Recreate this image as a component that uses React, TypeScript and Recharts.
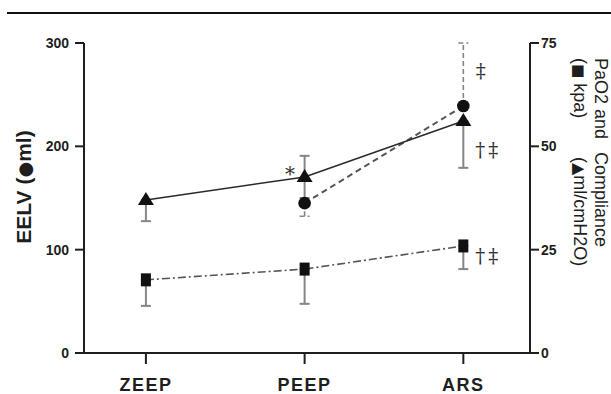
import React from 'react';
import { LineChart, Line, XAxis, YAxis, ErrorBar, LabelList } from 'recharts';

const categories = ['ZEEP', 'PEEP', 'ARS'];

// EELV (ml), left axis - no visible point at ZEEP
const eelv = [null, 145, 239];
const eelvErr = [null, [12.6, 0], [0, 61]];
const eelvNotes = ['', '', '‡'];

// Compliance (ml/cmH2O), right axis
const compliance = [37.0, 42.6, 56.1];
const complianceErr = [[5.1, 0], [5.1, 5.1], [11.3, 0]];
const complianceNotes = ['', '*', '†‡'];

// PaO2 (kpa), right axis
const pao2 = [17.7, 20.3, 25.9];
const pao2Err = [[6.3, 0], [8.4, 0], [5.6, 0]];
const pao2Notes = ['', '', '†‡'];

const leftTicks = [0, 100, 200, 300];
const rightTicks = [0, 25, 50, 75];

const data = categories.map((name, i) => ({
  x: i,
  name,
  eelv: eelv[i],
  eelvErr: eelvErr[i],
  eelvNote: eelvNotes[i],
  compliance: compliance[i],
  complianceErr: complianceErr[i],
  complianceNote: complianceNotes[i],
  pao2: pao2[i],
  pao2Err: pao2Err[i],
  pao2Note: pao2Notes[i],
}));

const INK = '#1e1e1e';
const GREY = '#858585';
const SANS = 'Liberation Sans, Arial, sans-serif';
const SYMBOL = 'DejaVu Sans, sans-serif';

const triangleDot = (p: any) => {
  const { cx, cy, key } = p;
  if (cx == null || cy == null) return <g key={key} />;
  return <path key={key} d={`M${cx},${cy - 8} L${cx + 8},${cy + 5} L${cx - 8},${cy + 5} Z`} fill="#111" />;
};

const circleDot = (p: any) => {
  const { cx, cy, key } = p;
  if (cx == null || cy == null) return <g key={key} />;
  return <circle key={key} cx={cx} cy={cy} r={6.3} fill="#111" />;
};

const squareDot = (p: any) => {
  const { cx, cy, key } = p;
  if (cx == null || cy == null) return <g key={key} />;
  return <rect key={key} x={cx - 5} y={cy - 6.5} width={10} height={13} fill="#111" />;
};

// significance marks next to the points
const noteRenderer = (daggerDy: number) => (props: any) => {
  const { x, y, value } = props;
  if (!value || x == null || y == null) return null;
  let dx = 12;
  let dy = daggerDy;
  let anchor: 'start' | 'middle' = 'start';
  if (value === '*') { dx = -13; dy = 4; anchor = 'middle'; }
  if (value === '‡') { dx = 19; dy = -28; anchor = 'middle'; }
  return (
    <text x={x + dx} y={y + dy} textAnchor={anchor} fontFamily="DejaVu Serif, serif"
      fontSize={20} fill="#333" letterSpacing={3}>
      {value}
    </text>
  );
};

const leftLabel = (props: any) => {
  const vb = props.viewBox;
  const lx = vb.x + 31;
  const ly = vb.y + 144;
  return (
    <text transform={`rotate(-90, ${lx}, ${ly})`} x={lx} y={ly} textAnchor="middle"
      fontFamily={SANS} fontSize={21} fontWeight={700} fill={INK}>
      EELV (<tspan fontFamily={SYMBOL} fontSize={18}>●</tspan>ml)
    </text>
  );
};

const rightLabel = (props: any) => {
  const vb = props.viewBox;
  const top = vb.y + 15;
  const line1 = vb.x + 65;
  const line2 = vb.x + 44;
  const style = { fontFamily: SANS, fontSize: 18, fill: INK };
  return (
    <g>
      <text transform={`translate(${line1}, ${top}) rotate(90)`} {...style}>
        <tspan x={0} y={0}>PaO2 and</tspan>
        <tspan x={94} y={0}>Compliance</tspan>
      </text>
      <text transform={`translate(${line2}, ${top}) rotate(90)`} {...style}>
        <tspan x={0} y={0}>(<tspan fontFamily={SYMBOL} fontSize={15}>■</tspan> kpa)</tspan>
        <tspan x={99} y={0}>(<tspan fontFamily={SYMBOL} fontSize={16}>▲</tspan>ml/cmH2O)</tspan>
      </text>
    </g>
  );
};

const axisLine = { stroke: INK, strokeWidth: 2 };

export default function App() {
  return (
    <div style={{ position: 'absolute', left: 0, top: 0, width: 611, height: 394, background: '#fff', overflow: 'hidden' }}>
      <div style={{ position: 'absolute', left: 7, top: 12, width: 604, height: 2, background: '#111' }} />
      <div style={{ position: 'absolute', left: 0, top: 0 }}>
        <LineChart width={611} height={394} data={data} margin={{ top: 43, right: 0, bottom: 0, left: 0 }}
          style={{ fontFamily: SANS }}>
          <XAxis dataKey="x" type="number" domain={[-0.39, 2.42]} ticks={[0, 1, 2]}
            tickFormatter={(v: number) => categories[v]} axisLine={axisLine} tickLine={axisLine}
            tickSize={11} tickMargin={14} height={41}
            tick={{ fontSize: 18, fontWeight: 700, fill: INK, letterSpacing: 1.5 }} />
          <YAxis yAxisId="left" domain={[0, 300]} ticks={leftTicks} width={84}
            axisLine={axisLine} tickLine={axisLine} tickSize={9} tickMargin={6}
            tick={{ fontSize: 14, fontWeight: 700, fill: INK }} label={leftLabel} />
          <YAxis yAxisId="right" orientation="right" domain={[0, 75]} ticks={rightTicks} width={81}
            axisLine={axisLine} tickLine={axisLine} tickSize={9} tickMargin={2}
            tick={{ fontSize: 14, fontWeight: 700, fill: INK }} label={rightLabel} />

          <Line yAxisId="right" dataKey="pao2" stroke="#555" strokeWidth={1.6} strokeDasharray="8 3 2 3"
            dot={squareDot} activeDot={false} isAnimationActive={false}>
            <ErrorBar dataKey="pao2Err" direction="y" width={5} stroke={GREY} strokeWidth={2} />
            <LabelList dataKey="pao2Note" content={noteRenderer(17)} />
          </Line>
          <Line yAxisId="left" dataKey="eelv" stroke="#555" strokeWidth={2} strokeDasharray="6 4"
            dot={circleDot} activeDot={false} isAnimationActive={false}>
            <ErrorBar dataKey="eelvErr" direction="y" width={5} stroke={GREY} strokeWidth={1.6} strokeDasharray="5 3" />
            <LabelList dataKey="eelvNote" content={noteRenderer(0)} />
          </Line>
          <Line yAxisId="right" dataKey="compliance" stroke="#2a2a2a" strokeWidth={1.6}
            dot={triangleDot} activeDot={false} isAnimationActive={false}>
            <ErrorBar dataKey="complianceErr" direction="y" width={5} stroke={GREY} strokeWidth={2} />
            <LabelList dataKey="complianceNote" content={noteRenderer(36)} />
          </Line>
        </LineChart>
      </div>
    </div>
  );
}
